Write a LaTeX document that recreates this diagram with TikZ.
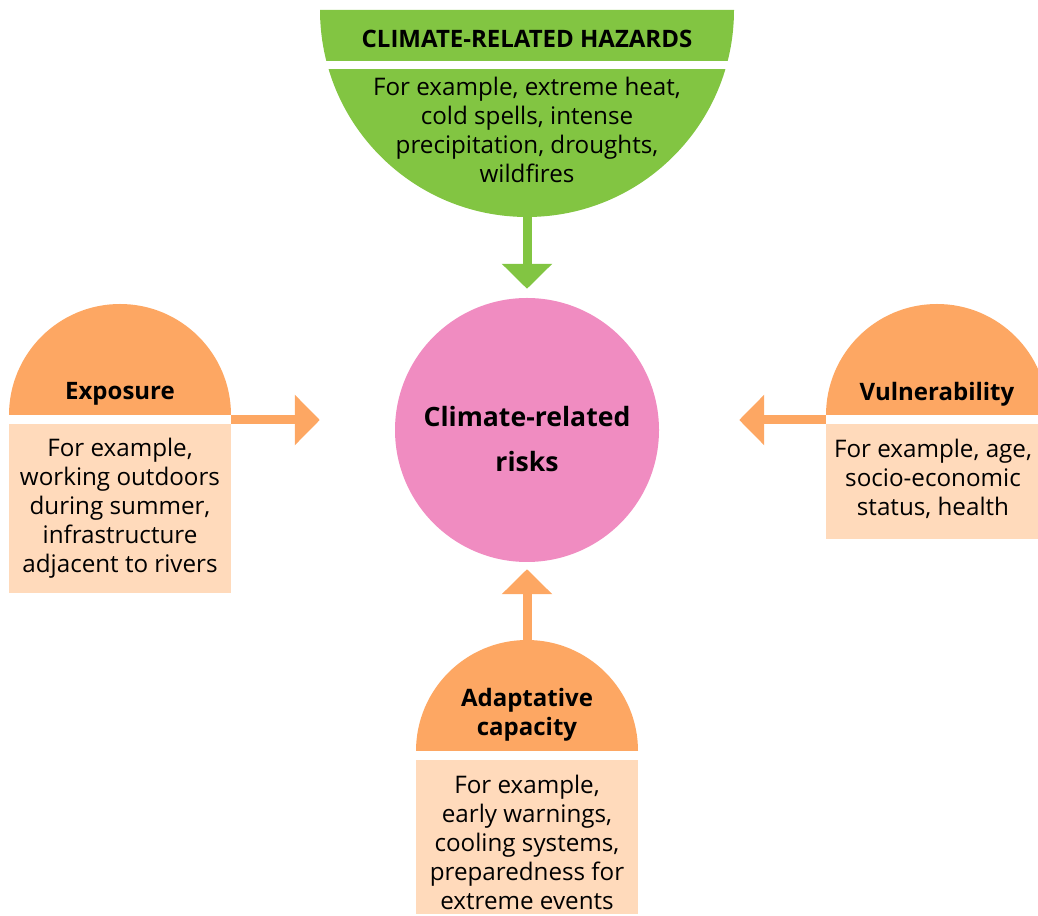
\documentclass[tikz,border=0pt]{standalone}
\usepackage{fontspec}
\setmainfont{Open Sans}
\usetikzlibrary{arrows.meta}
\definecolor{hazgreen}{RGB}{130,197,66}
\definecolor{facorange}{RGB}{253,167,99}
\definecolor{facpeach}{RGB}{255,218,187}
\definecolor{riskpink}{RGB}{240,140,193}
\tikzset{
  body/.style={align=center, inner sep=0pt, font=\fontsize{24.2}{29}\selectfont},
  title/.style={align=center, inner sep=0pt, font=\fontsize{24}{29}\selectfont\bfseries},
  fatarrow/.style={line width=9pt, shorten >=#1,
    -{Triangle[width=49pt,length=25pt]}},
}
\begin{document}
\begin{tikzpicture}[x=1pt,y=1pt]
\useasboundingbox (0,0) rectangle (1038,915);

% hazards: lower half disc with a white band under the heading
\fill[hazgreen] (320,905) arc[start angle=180, end angle=360, radius=207] -- cycle;
\fill[white] (310,846) rectangle (744,854);
\node[title] (hzhead) at (527,876) {CLIMATE-RELATED HAZARDS};
\node[body] (hzbody) at (527,785.5) {For example, extreme heat,\\ cold spells, intense\\ precipitation, droughts,\\ wildfires};
\coordinate (hzbot) at (527,699);

% central circle
\node[circle, fill=riskpink, minimum size=264pt, inner sep=0pt,
      align=center, font=\fontsize{26.6}{45}\selectfont\bfseries] (risk) at (527,485) {};
\node[align=center, inner sep=0pt, font=\fontsize{26.6}{45}\selectfont\bfseries] (risktext) at (527,476) {Climate-related\\ risks};

% exposure
\fill[facorange] (9,500) arc[start angle=180, end angle=0, radius=111] -- cycle;
\fill[facpeach] (9,322) rectangle (231,491);
\node[title] (exphead) at (120,521) {Exposure};
\node[body] (expbody) at (120,407) {For example,\\ working outdoors\\ during summer,\\ infrastructure\\ adjacent to rivers};
\coordinate (expout) at (231,495);

% vulnerability
\fill[facorange] (826,500) arc[start angle=180, end angle=0, radius=111] -- cycle;
\fill[facpeach] (826,376) rectangle (1048,491);
\node[title] (vulhead) at (937,521) {Vulnerability};
\node[body] (vulbody) at (933,436) {For example, age,\\ socio-economic\\ status, health};
\coordinate (vulout) at (826,495);

% adaptative capacity
\fill[facorange] (416,164) arc[start angle=180, end angle=0, radius=111] -- cycle;
\fill[facpeach] (416,1) rectangle (638,155);
\node[title] (adahead) at (527,200) {Adaptative\\ capacity};
\node[body] (adabody) at (527,73) {For example,\\ early warnings,\\ cooling systems,\\ preparedness for\\ extreme events};
\coordinate (adaout) at (527,275);

% connectors into the central circle
\draw[fatarrow=9pt, hazgreen] (hzbot) -- (risk.north);
\draw[fatarrow=75pt, facorange] (expout) -- (expout -| risk.west);
\draw[fatarrow=80pt, facorange] (vulout) -- (vulout -| risk.east);
\draw[fatarrow=7pt, facorange] (adaout) -- (risk.south);
\end{tikzpicture}
\end{document}
